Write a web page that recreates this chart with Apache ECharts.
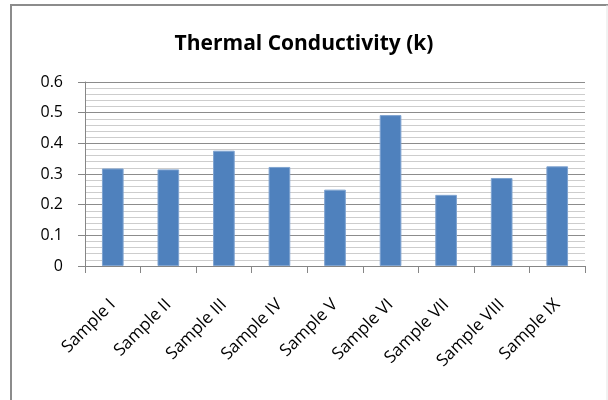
<!DOCTYPE html>
<html>
<head>
<meta charset="utf-8">
<script src="https://cdn.jsdelivr.net/npm/echarts@6/dist/echarts.min.js"></script>
<style>html,body{margin:0;padding:0;background:#fff;}#c{width:608px;height:400px;}</style>
</head>
<body>
<div id="c"></div>
<script>
const titleText = 'Thermal Conductivity (k)';
const categories = ['Sample I','Sample II','Sample III','Sample IV','Sample V','Sample VI','Sample VII','Sample VIII','Sample IX'];
const conductivity = [0.318, 0.315, 0.376, 0.323, 0.249, 0.492, 0.232, 0.287, 0.325];
const yMin = 0, yMax = 0.6, yStep = 0.1;

const FONT = '"Open Sans", sans-serif';
const chart = echarts.init(document.getElementById('c'), null, {renderer: 'canvas'});
chart.setOption({
  animation: false,
  backgroundColor: '#ffffff',
  title: {
    text: titleText,
    left: 'center', top: 29,
    textStyle: {fontFamily: FONT, fontWeight: 'bold', fontSize: 21, color: '#000'}
  },
  graphic: [
    {type: 'polyline', shape: {points: [[11, 402], [11, 5], [608, 5]]}, style: {stroke: '#8c8c8c', lineWidth: 2, fill: null}},
    {type: 'line', shape: {x1: 607, y1: 5, x2: 607, y2: 400}, style: {stroke: '#e4e4e4', lineWidth: 1}}
  ],
  grid: {left: 85, right: 23, top: 82, bottom: 134, containLabel: false},
  xAxis: {
    type: 'category',
    data: categories,
    axisLine: {show: true, lineStyle: {color: '#868686', width: 1}},
    axisTick: {show: true, alignWithLabel: false, length: 7, lineStyle: {color: '#868686'}},
    axisLabel: {rotate: 45, margin: 36, fontFamily: FONT, fontSize: 17, color: '#000', interval: 0}
  },
  yAxis: {
    type: 'value',
    min: yMin, max: yMax, interval: yStep,
    axisLine: {show: true, lineStyle: {color: '#868686'}},
    axisTick: {show: true, length: 7, lineStyle: {color: '#868686'}},
    axisLabel: {margin: 22, fontFamily: FONT, fontSize: 16, color: '#000'},
    splitLine: {show: true, lineStyle: {color: '#8c8c8c', width: 1}},
    minorTick: {show: false, splitNumber: 5},
    minorSplitLine: {show: true, lineStyle: {color: '#cdcdcd', width: 1}}
  },
  series: [{
    type: 'bar',
    data: conductivity,
    barWidth: '39%',
    itemStyle: {color: '#4f81bd', borderColor: '#7fa3d0', borderWidth: 1}
  }]
});
</script>
</body>
</html>
